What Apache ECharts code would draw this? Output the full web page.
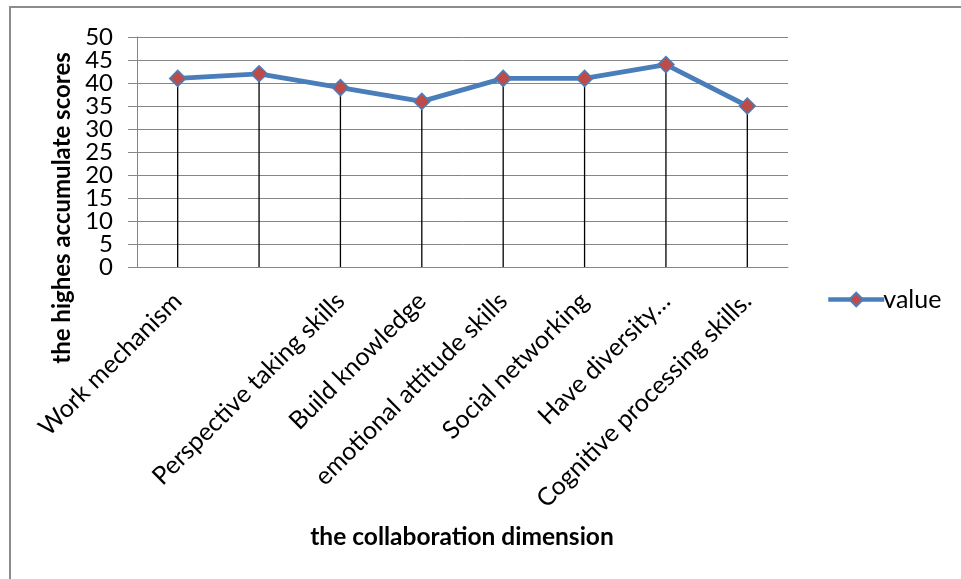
<!DOCTYPE html>
<html>
<head>
<meta charset="utf-8">
<script src="https://cdn.jsdelivr.net/npm/echarts@6/dist/echarts.min.js"></script>
<style>
html,body{margin:0;padding:0;background:#fff;}
#chart{width:961px;height:579px;}
</style>
</head>
<body>
<div id="chart"></div>
<script>
// second category label is hidden in the reference (skipped by the original chart)
var categories = ["Work mechanism", "", "Perspective taking skills", "Build knowledge", "emotional attitude skills", "Social networking", "Have diversity\u2026", "Cognitive processing skills."];
var values = [41, 42, 39, 36, 41, 41, 44, 35];
var yTicks = [0, 5, 10, 15, 20, 25, 30, 35, 40, 45, 50];
var seriesName = "value";
var yTitle = "the highes accumulate scores";
var xTitle = "the collaboration dimension";

var chart = echarts.init(document.getElementById('chart'));
var font = 'Lato';
var yMin = yTicks[0], yMax = yTicks[yTicks.length - 1], yStep = yTicks[1] - yTicks[0];
var labelBase = {margin: 24, fontFamily: font, fontSize: 24, color: '#000', hideOverlap: false};
chart.setOption({
  backgroundColor: '#fff',
  animation: false,
  graphic: [{
    type: 'rect',
    shape: {x: 10, y: 7, width: 1200, height: 1200},
    style: {fill: 'none', stroke: '#8c8c8c', lineWidth: 2},
    silent: true,
    z: 0
  }, {
    type: 'text',
    x: 62, y: 208,
    rotation: Math.PI / 2,
    style: {text: yTitle, fontFamily: font, fontSize: 24, fontWeight: 'bold', fill: '#000', align: 'center', verticalAlign: 'middle'},
    silent: true
  }, {
    type: 'text',
    x: 462, y: 537,
    style: {text: xTitle, fontFamily: font, fontSize: 24.5, fontWeight: 'bold', fill: '#000', align: 'center', verticalAlign: 'middle'},
    silent: true
  }],
  grid: {left: 137, right: 173, top: 37, bottom: 312, containLabel: false},
  legend: {
    data: [seriesName],
    left: 821, top: 282,
    itemWidth: 56, itemHeight: 17, itemGap: 2,
    lineStyle: {width: 4.5, color: '#4a7ebb'},
    textStyle: {fontFamily: font, fontSize: 25, color: '#000', padding: [0, 0, 0, -6]}
  },
  xAxis: {
    type: 'category',
    data: categories,
    boundaryGap: true,
    axisLine: {show: true, onZero: false, lineStyle: {color: '#868686', width: 1}},
    axisTick: {show: false},
    splitLine: {show: false},
    axisLabel: {interval: 0, rotate: 45, margin: 30, fontFamily: font, fontSize: 25, color: '#000'}
  },
  yAxis: [{
    type: 'value',
    min: yMin, max: yMax, interval: yStep,
    axisLine: {show: true, lineStyle: {color: '#868686', width: 1}},
    axisTick: {show: true, length: 9, lineStyle: {color: '#868686'}},
    splitLine: {show: true, showMinLine: true, showMaxLine: true, lineStyle: {color: '#868686', width: 1}},
    axisLabel: Object.assign({}, labelBase, {
      showMinLabel: true, showMaxLabel: true,
      formatter: function (v) { return (v - yMin) % (2 * yStep) === 0 ? String(v) : ''; }
    })
  }, {
    type: 'value',
    position: 'left',
    min: yMin, max: yMax, interval: yStep,
    axisLine: {show: false},
    axisTick: {show: false},
    splitLine: {show: false},
    axisLabel: Object.assign({}, labelBase, {
      showMinLabel: false, showMaxLabel: false,
      formatter: function (v) { return (v - yMin) % (2 * yStep) !== 0 ? String(v) : ''; }
    })
  }],
  series: [{
    name: 'drop',
    type: 'bar',
    data: values,
    barWidth: 1.3,
    itemStyle: {color: '#000'},
    silent: true,
    z: 1
  }, {
    name: seriesName,
    type: 'line',
    data: values,
    symbol: 'diamond',
    symbolSize: 16,
    lineStyle: {color: '#4a7ebb', width: 4.8},
    itemStyle: {color: '#be4b48', borderColor: '#4a7ebb', borderWidth: 1.5},
    markLine: {
      silent: true,
      symbol: 'none',
      label: {show: false},
      lineStyle: {color: '#868686', width: 1, type: 'solid'},
      data: [{yAxis: yMin}]
    },
    z: 3
  }]
});
</script>
</body>
</html>
